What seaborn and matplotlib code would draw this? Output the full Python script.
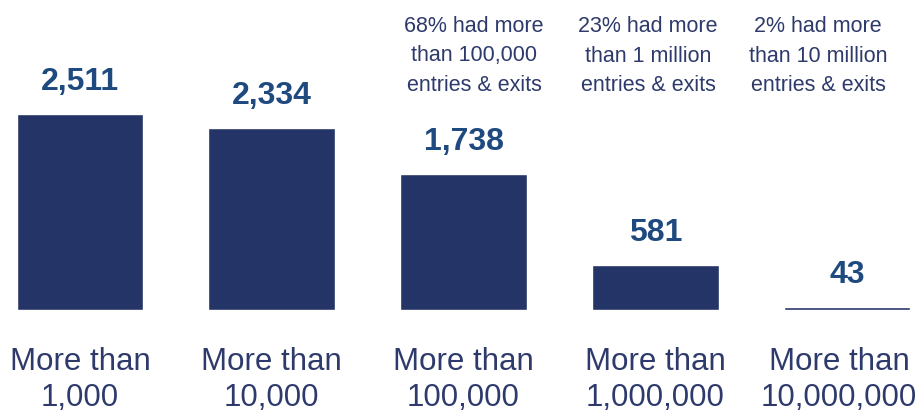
import matplotlib
matplotlib.use("Agg")
import matplotlib.pyplot as plt
import matplotlib.transforms as mtransforms
import seaborn as sns
import pandas as pd

categories = ["More than\n1,000", "More than\n10,000", "More than\n100,000",
              "More than\n1,000,000", "More than\n10,000,000"]
values = [2511, 2334, 1738, 581, 43]
value_labels = ["2,511", "2,334", "1,738", "581", "43"]
notes = ["", "", "68% had more\nthan 100,000\nentries & exits",
         "23% had more\nthan 1 million\nentries & exits",
         "2% had more\nthan 10 million\nentries & exits"]

sns.set_style("white")
plt.rcParams['font.family'] = ['Liberation Sans', 'DejaVu Sans']

bar_color = "#253466"
label_color = "#1F4A7F"
text_color = "#2D3A6B"

df = pd.DataFrame({"cat": categories, "val": values})

fig = plt.figure(figsize=(9.18, 4.14), dpi=100)
ax = fig.add_axes([0, 103 / 414, 1, 311 / 414])
sns.barplot(data=df, x="cat", y="val", color=bar_color, width=0.66,
            saturation=1, ax=ax)

ax.set_xlim(-0.417, 4.37)
ax.set_ylim(0, 311 / 0.0781)
for s in ax.spines.values():
    s.set_visible(False)
ax.set_yticks([])
ax.set_xlabel("")
ax.set_ylabel("")
ax.tick_params(axis="x", length=0, pad=26, labelsize=22.5, labelcolor=text_color)
ticklabels = ax.get_xticklabels()
for t in ticklabels:
    t.set_linespacing(1.24)
ticklabels[-1].set_transform(ticklabels[-1].get_transform() +
                             mtransforms.ScaledTranslation(-0.08, 0, fig.dpi_scale_trans))

ax.bar_label(ax.containers[0], labels=value_labels, padding=13,
             fontsize=23, fontweight="bold", color=label_color)

trans = mtransforms.blended_transform_factory(ax.transData, ax.transAxes)
offsets = [0, 0, 0.055, -0.038, -0.151]
for i, n in enumerate(notes):
    if n:
        ax.text(i + offsets[i], (311 - 56) / 311, n, transform=trans,
                ha="center", va="center", fontsize=15.5, color=text_color,
                linespacing=1.55)

fig.savefig("out.png", dpi=100)
